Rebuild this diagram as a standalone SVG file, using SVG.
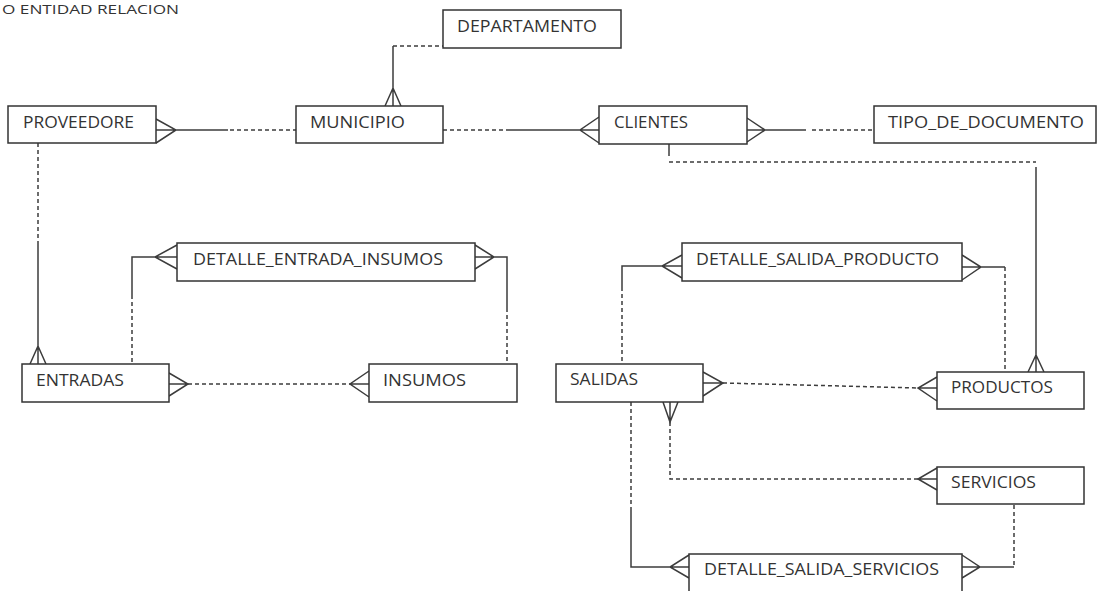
<svg xmlns="http://www.w3.org/2000/svg" width="1097" height="591" viewBox="0 0 1097 591">
<style>
.box{fill:#fff;stroke:#333;stroke-width:1.5}
.lbl{font-family:"Open Sans","Liberation Sans",sans-serif;font-size:15.5px;fill:#333}
.s{fill:none;stroke:#3c3c3c;stroke-width:1.5}
.d{fill:none;stroke:#3c3c3c;stroke-width:1.5;stroke-dasharray:4 3}
</style>
<rect width="1097" height="591" fill="#fff"/>
<text class="lbl" x="2" y="14" textLength="177" lengthAdjust="spacingAndGlyphs" style="font-size:13.5px">O ENTIDAD RELACION</text>
<g id="connectors">
  <!-- PROVEEDORE - MUNICIPIO -->
  <path class="s" d="M156,119 L176,130 L156,143 M156,130 H228"/>
  <path class="d" d="M230,130 H296"/>
  <!-- MUNICIPIO - DEPARTAMENTO -->
  <path class="s" d="M385,106 L393,88 L401,106 M393,106 V46"/>
  <path class="d" d="M393,46 H443"/>
  <!-- MUNICIPIO - CLIENTES -->
  <path class="d" d="M443,130 H510"/>
  <path class="s" d="M510,130 H599 M599,117 L580,130 L599,143"/>
  <!-- CLIENTES - TIPO_DE_DOCUMENTO -->
  <path class="s" d="M747,118 L765,130 L747,142 M747,130 H806"/>
  <path class="d" d="M812,130 H874"/>
  <!-- CLIENTES - PRODUCTOS -->
  <path class="s" d="M669,144 V156"/>
  <path class="d" d="M669,162 H1036"/>
  <path class="s" d="M1036,167 V372 M1028,372 L1036,355 L1044,372"/>
  <!-- PROVEEDORE - ENTRADAS -->
  <path class="d" d="M38,143 V245"/>
  <path class="s" d="M38,245 V364 M30,364 L38,346 L46,364"/>
  <!-- DETALLE_ENTRADA_INSUMOS - ENTRADAS -->
  <path class="s" d="M177,245 L155,257 L177,269 M177,257 H132 V295"/>
  <path class="d" d="M132,295 V364"/>
  <!-- DETALLE_ENTRADA_INSUMOS - INSUMOS -->
  <path class="s" d="M475,245 L494,257 L475,269 M475,257 H507 V308"/>
  <path class="d" d="M507,308 V364"/>
  <!-- ENTRADAS - INSUMOS -->
  <path class="s" d="M169,373 L188,384 L169,396 M169,384 H188"/>
  <path class="d" d="M188,384 H350"/>
  <path class="s" d="M369,371 L350,384 L369,397 M350,384 H369"/>
  <!-- DETALLE_SALIDA_PRODUCTO - SALIDAS -->
  <path class="s" d="M682,255 L662,266 L682,278 M682,266 H622 V287"/>
  <path class="d" d="M622,287 V364"/>
  <!-- DETALLE_SALIDA_PRODUCTO - PRODUCTOS -->
  <path class="s" d="M962,255 L981,267 L962,280 M962,267 H1005"/>
  <path class="d" d="M1005,267 V372"/>
  <!-- SALIDAS - PRODUCTOS -->
  <path class="s" d="M703,372 L723,383 L703,396 M703,383 H723"/>
  <path class="d" d="M723,383 L918,388"/>
  <path class="s" d="M937,377 L918,388 L937,401 M918,388 H937"/>
  <!-- SALIDAS - SERVICIOS -->
  <path class="s" d="M663,402 L670,422 L678,402 M670,402 V422"/>
  <path class="d" d="M670,422 V479 H918"/>
  <path class="s" d="M937,468 L918,479 L937,490 M918,479 H937"/>
  <!-- SALIDAS - DETALLE_SALIDA_SERVICIOS -->
  <path class="d" d="M631,402 V507"/>
  <path class="s" d="M631,507 V567 H689 M689,555 L670,567 L689,578"/>
  <!-- SERVICIOS - DETALLE_SALIDA_SERVICIOS -->
  <path class="d" d="M1014,505 V567"/>
  <path class="s" d="M1014,567 H962 M962,555 L980,567 L962,578"/>
</g>
<g id="departamento"><rect class="box" x="443" y="10" width="178" height="38"/><text class="lbl" x="457" y="32" textLength="140" lengthAdjust="spacingAndGlyphs">DEPARTAMENTO</text></g>
<g id="proveedore"><rect class="box" x="8" y="106" width="148" height="37"/><text class="lbl" x="23" y="128" textLength="111" lengthAdjust="spacingAndGlyphs">PROVEEDORE</text></g>
<g id="municipio"><rect class="box" x="296" y="106" width="147" height="37"/><text class="lbl" x="310" y="128" textLength="95" lengthAdjust="spacingAndGlyphs">MUNICIPIO</text></g>
<g id="clientes"><rect class="box" x="599" y="106" width="148" height="38"/><text class="lbl" x="614" y="128" textLength="74" lengthAdjust="spacingAndGlyphs">CLIENTES</text></g>
<g id="tipo_de_documento"><rect class="box" x="874" y="106" width="222" height="37"/><text class="lbl" x="888" y="128" textLength="196" lengthAdjust="spacingAndGlyphs">TIPO_DE_DOCUMENTO</text></g>
<g id="detalle_entrada_insumos"><rect class="box" x="177" y="243" width="298" height="38"/><text class="lbl" x="193" y="265" textLength="250" lengthAdjust="spacingAndGlyphs">DETALLE_ENTRADA_INSUMOS</text></g>
<g id="entradas"><rect class="box" x="22" y="364" width="147" height="38"/><text class="lbl" x="36" y="386" textLength="88" lengthAdjust="spacingAndGlyphs">ENTRADAS</text></g>
<g id="insumos"><rect class="box" x="369" y="364" width="148" height="38"/><text class="lbl" x="383" y="386" textLength="83" lengthAdjust="spacingAndGlyphs">INSUMOS</text></g>
<g id="detalle_salida_producto"><rect class="box" x="682" y="243" width="280" height="38"/><text class="lbl" x="696" y="265" textLength="243" lengthAdjust="spacingAndGlyphs">DETALLE_SALIDA_PRODUCTO</text></g>
<g id="salidas"><rect class="box" x="556" y="364" width="147" height="38"/><text class="lbl" x="570" y="385" textLength="68" lengthAdjust="spacingAndGlyphs">SALIDAS</text></g>
<g id="productos"><rect class="box" x="937" y="372" width="147" height="37"/><text class="lbl" x="951" y="393" textLength="102" lengthAdjust="spacingAndGlyphs">PRODUCTOS</text></g>
<g id="servicios"><rect class="box" x="937" y="467" width="147" height="37"/><text class="lbl" x="951" y="488" textLength="85" lengthAdjust="spacingAndGlyphs">SERVICIOS</text></g>
<g id="detalle_salida_servicios"><rect class="box" x="689" y="554" width="273" height="40"/><text class="lbl" x="704" y="575" textLength="235" lengthAdjust="spacingAndGlyphs">DETALLE_SALIDA_SERVICIOS</text></g>
</svg>
